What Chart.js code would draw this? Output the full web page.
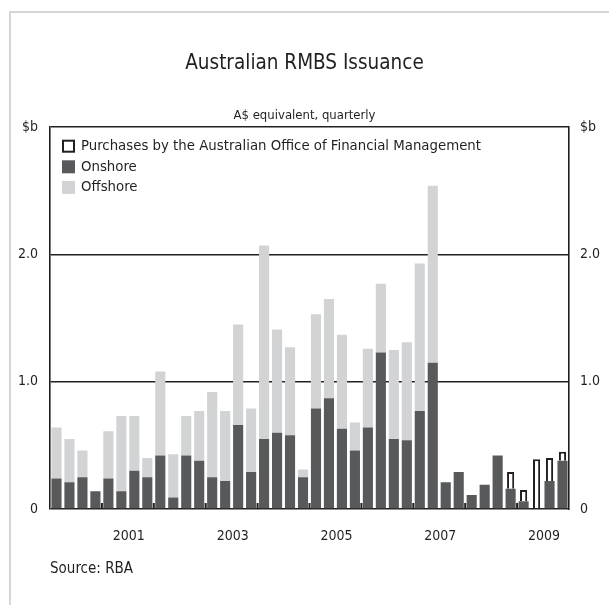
<!DOCTYPE html>
<html>
<head>
<meta charset="utf-8">
<script src="https://cdn.jsdelivr.net/npm/chart.js@4/dist/chart.umd.min.js"></script>
<style>
  body { margin: 0; background: #fff; overflow: hidden; }
  #wrap { position: relative; width: 609px; height: 605px; }
  #frame { position: absolute; left: 9px; top: 11px; width: 620px; height: 620px;
           border-left: 2px solid #d6d6d6; border-top: 2px solid #d6d6d6; }
  #src { position: absolute; left: 50px; top: 559px; font: 15px "DejaVu Sans Condensed", sans-serif; color: #231f20; }
  canvas { position: absolute; left: 0; top: 0; }
</style>
</head>
<body>
<div id="wrap">
  <div id="frame"></div>
  <canvas id="myChart" width="609" height="605"></canvas>
  <div id="src">Source: RBA</div>
</div>
<script>
// quarters, Mar 2000 to Dec 2009
const quarters = [
  'Mar-00','Jun-00','Sep-00','Dec-00','Mar-01','Jun-01','Sep-01','Dec-01',
  'Mar-02','Jun-02','Sep-02','Dec-02','Mar-03','Jun-03','Sep-03','Dec-03',
  'Mar-04','Jun-04','Sep-04','Dec-04','Mar-05','Jun-05','Sep-05','Dec-05',
  'Mar-06','Jun-06','Sep-06','Dec-06','Mar-07','Jun-07','Sep-07','Dec-07',
  'Mar-08','Jun-08','Sep-08','Dec-08','Mar-09','Jun-09','Sep-09','Dec-09'
];
const yearLabels = { 'Jun-01': '2001', 'Jun-03': '2003', 'Jun-05': '2005', 'Jun-07': '2007', 'Jun-09': '2009' };

// $b
const onshore = [
  0.24, 0.21, 0.25, 0.14, 0.24, 0.14, 0.30, 0.25,
  0.42, 0.09, 0.42, 0.38, 0.25, 0.22, 0.66, 0.29,
  0.55, 0.60, 0.58, 0.25, 0.79, 0.87, 0.63, 0.46,
  0.64, 1.23, 0.55, 0.54, 0.77, 1.15, 0.21, 0.29,
  0.11, 0.19, 0.42, 0.16, 0.06, 0, 0.22, 0.38
];
const offshore = [
  0.40, 0.34, 0.21, 0, 0.37, 0.59, 0.43, 0.15,
  0.66, 0.34, 0.31, 0.39, 0.67, 0.55, 0.79, 0.50,
  1.52, 0.81, 0.69, 0.06, 0.74, 0.78, 0.74, 0.22,
  0.62, 0.54, 0.70, 0.77, 1.16, 1.39, 0, 0,
  0, 0, 0, 0, 0, 0, 0, 0
];
const purchases = [
  0, 0, 0, 0, 0, 0, 0, 0,
  0, 0, 0, 0, 0, 0, 0, 0,
  0, 0, 0, 0, 0, 0, 0, 0,
  0, 0, 0, 0, 0, 0, 0, 0,
  0, 0, 0, 0.13, 0.09, 0.39, 0.18, 0.07
];

const ink = '#231f20';
const fontFamily = '"DejaVu Sans Condensed", sans-serif';
const legendOrder = [2, 0, 1]; // purchases, onshore, offshore

// small year ticks rising from the bottom axis
const yearTicks = {
  id: 'yearTicks',
  afterDatasetsDraw(chart) {
    const x = chart.scales.x;
    const bottom = chart.chartArea.bottom;
    const ctx = chart.ctx;
    ctx.save();
    ctx.strokeStyle = ink;
    ctx.lineWidth = 2;
    for (let i = 4; i < quarters.length; i += 4) {
      const px = (x.getPixelForValue(i - 1) + x.getPixelForValue(i)) / 2;
      ctx.beginPath();
      ctx.moveTo(px, bottom);
      ctx.lineTo(px, bottom - 6);
      ctx.stroke();
    }
    ctx.restore();
  }
};

// legend inside the plot, top left
const innerLegend = {
  id: 'innerLegend',
  afterDraw(chart) {
    const ctx = chart.ctx;
    const area = chart.chartArea;
    ctx.save();
    ctx.font = '14.8px ' + fontFamily;
    ctx.textBaseline = 'middle';
    ctx.fillStyle = ink;
    legendOrder.forEach((di, row) => {
      const ds = chart.data.datasets[di];
      const y = area.top + 19 + row * 20.6;
      const bx = area.left + 12;
      ctx.fillStyle = ds.backgroundColor;
      ctx.fillRect(bx, y - 6.5, 13, 13);
      if (ds.borderWidth) {
        ctx.strokeStyle = ink;
        ctx.lineWidth = 2;
        ctx.strokeRect(bx + 1, y - 5.5, 11, 11);
      }
      ctx.fillStyle = ink;
      ctx.fillText(ds.label, area.left + 31, y);
    });
    ctx.restore();
  }
};

function yLabel(v) {
  if (v === 3) return '$b';
  if (v === 0) return '0';
  return v.toFixed(1);
}

const ctx = document.getElementById('myChart').getContext('2d');

const myChart = new Chart(ctx, {
  type: 'bar',
  data: {
    labels: quarters,
    datasets: [
      {
        label: 'Onshore',
        data: onshore,
        backgroundColor: '#58595b',
        borderWidth: 0,
        barPercentage: 0.78,
        categoryPercentage: 1
      },
      {
        label: 'Offshore',
        data: offshore,
        backgroundColor: '#d1d3d4',
        borderWidth: 0,
        barPercentage: 0.78,
        categoryPercentage: 1
      },
      {
        label: 'Purchases by the Australian Office of Financial Management',
        data: purchases,
        backgroundColor: '#ffffff',
        borderColor: ink,
        borderWidth: 2,
        barPercentage: 0.55,
        categoryPercentage: 1
      }
    ]
  },
  options: {
    responsive: false,
    animation: false,
    layout: { padding: { left: 0, right: 0, top: 0, bottom: 0 } },
    plugins: {
      tooltip: { enabled: false },
      legend: { display: false },
      title: {
        display: true,
        text: 'Australian RMBS Issuance',
        color: ink,
        font: { family: fontFamily, size: 20.5, weight: 'normal', lineHeight: 1.2 },
        padding: { top: 51, bottom: 32 }
      },
      subtitle: {
        display: true,
        text: 'A$ equivalent, quarterly',
        color: ink,
        font: { family: fontFamily, size: 13, weight: 'normal', lineHeight: 1.2 },
        padding: { top: 0, bottom: 4 }
      }
    },
    scales: {
      x: {
        stacked: true,
        grid: { display: false },
        border: { display: false },
        afterFit: (scale) => { scale.height = 96; },
        ticks: {
          autoSkip: false,
          maxRotation: 0,
          minRotation: 0,
          padding: 11,
          labelOffset: 7.5,
          color: ink,
          font: { family: fontFamily, size: 14 },
          callback: function (value) {
            return yearLabels[quarters[value]] || '';
          }
        }
      },
      y: {
        stacked: true,
        min: 0,
        max: 3,
        position: 'left',
        afterFit: (scale) => { scale.width = 50; },
        grid: { color: ink, lineWidth: 1.6, drawTicks: false },
        border: { display: true, color: ink, width: 1.6 },
        ticks: {
          stepSize: 1,
          padding: 12,
          color: ink,
          font: { family: fontFamily, size: 14 },
          callback: yLabel
        }
      },
      y2: {
        min: 0,
        max: 3,
        position: 'right',
        afterFit: (scale) => { scale.width = 40; },
        grid: { drawOnChartArea: false, drawTicks: false },
        border: { display: true, color: ink, width: 1.6 },
        ticks: {
          stepSize: 1,
          padding: 11,
          color: ink,
          font: { family: fontFamily, size: 14 },
          callback: yLabel
        }
      }
    }
  },
  plugins: [yearTicks, innerLegend]
});
</script>
</body>
</html>
